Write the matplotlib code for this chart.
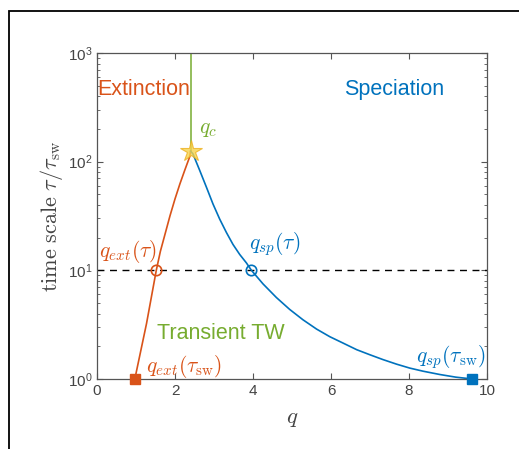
import math
import matplotlib
matplotlib.use("Agg")
import matplotlib.pyplot as plt
from matplotlib.patches import Rectangle
from matplotlib.ticker import FuncFormatter, LogLocator, NullFormatter

plt.rcParams['font.family'] = ['Liberation Sans', 'DejaVu Sans']
plt.rcParams['mathtext.fontset'] = 'custom'
plt.rcParams['mathtext.rm'] = 'Liberation Sans'
plt.rcParams['mathtext.it'] = 'Liberation Sans:italic'

# ---- data ----
ext_q = [0.97, 1.27, 1.52, 1.626, 1.744, 1.872, 2.0, 2.126, 2.249, 2.377, 2.40]
ext_tau = [1.0, 3.24, 10.0, 15.0, 21.5, 31.8, 45.4, 62.5, 83.2, 111.0, 125.0]

sp_q = [2.40, 2.46, 2.633, 2.805, 2.974, 3.146, 3.318, 3.487, 3.659, 3.831, 3.96,
        4.257, 4.6, 4.94, 5.28, 5.63, 5.97, 6.31, 6.66, 7.0, 7.33, 7.68, 8.02,
        8.36, 8.79, 9.2, 9.62]
sp_tau = [125.0, 118.0, 83.2, 58.3, 40.8, 29.6, 22.3, 17.3, 14.0, 11.7, 10.0,
          7.5, 5.62, 4.37, 3.51, 2.88, 2.45, 2.14, 1.86, 1.67, 1.51, 1.37, 1.26,
          1.18, 1.10, 1.04, 1.0]

q_c = 2.40
tau_c = 125.0
tau_level = 10.0
q_ext_level = 1.52
q_sp_level = 3.96
tau_sw = 1.0
q_ext_sw = 0.97
q_sp_sw = 9.62

x_ticks = [0, 2, 4, 6, 8, 10]

ORANGE = '#D95319'
BLUE = '#0072BD'
GREEN = '#77AC30'
YELLOW = '#EDB120'
AX = '#555555'

fig = plt.figure(figsize=(5.19, 4.49), dpi=100)
ax = fig.add_axes([97/519, 1-379/449, 390/519, 326/449])

# frame around figure (cut off at right and bottom)
fig.patches.append(Rectangle((9/519, -0.1), 1.2, 1 - 11/449 + 0.1,
                             transform=fig.transFigure, fill=False,
                             ec='black', lw=1.3, clip_on=False))

ax.plot([0, 10], [tau_level, tau_level], ls=(0, (5, 4)), color='black', lw=1.0)
ax.plot([q_c, q_c], [tau_c, 1000], color=GREEN, lw=1.1)
ax.plot(ext_q, ext_tau, color=ORANGE, lw=1.2)
ax.plot(sp_q, sp_tau, color=BLUE, lw=1.2)

ax.plot([q_ext_level], [tau_level], 'o', mfc='none', mec=ORANGE, ms=7.5, mew=1.2)
ax.plot([q_sp_level], [tau_level], 'o', mfc='none', mec=BLUE, ms=7.5, mew=1.2)
ax.plot([q_ext_sw], [tau_sw], 's', color=ORANGE, ms=6.5, clip_on=False, zorder=5)
ax.plot([q_sp_sw], [tau_sw], 's', color=BLUE, ms=6.5, clip_on=False, zorder=5)
ax.plot([q_c], [tau_c], '*', mfc='#F7D44C', mec=YELLOW, ms=16, mew=0.8, alpha=0.8, zorder=6)

ax.set_xlim(0, 10)
ax.set_yscale('log')
ax.set_ylim(1, 1000)
ax.set_xticks(x_ticks)
ax.yaxis.set_major_locator(LogLocator(base=10))
ax.yaxis.set_minor_locator(LogLocator(base=10, subs=range(2, 10)))
ax.yaxis.set_minor_formatter(NullFormatter())
ax.yaxis.set_major_formatter(FuncFormatter(lambda v, p: r'$\mathregular{10^{%d}}$' % round(math.log10(v))))

for s in ax.spines.values():
    s.set_color(AX)
    s.set_linewidth(0.9)
ax.tick_params(which='both', direction='in', top=True, right=True, color=AX,
               labelcolor='#444444', labelsize=11)
ax.tick_params(which='major', length=4)
ax.tick_params(which='minor', length=2.5)

ax.set_xlabel(r'$q$', fontsize=16.5, math_fontfamily='cm', color='#444444', labelpad=6)
ax.set_ylabel(r'$\mathrm{time\ scale}\ \tau/\tau_{\mathrm{sw}}$', fontsize=16,
              math_fontfamily='cm', color='#444444', labelpad=2)

ax.text(0.0, 460, 'Extinction', color=ORANGE, fontsize=15.5, ha='left', va='center')
ax.text(6.33, 460, 'Speciation', color=BLUE, fontsize=15.5, ha='left', va='center')
ax.text(1.54, 2.65, 'Transient TW', color=GREEN, fontsize=15.5, ha='left', va='center')

ax.text(2.62, 200, r'$q_c$', color=GREEN, fontsize=15.5, math_fontfamily='cm', ha='left', va='center')
ax.text(0.06, 15, r'$q_{ext}(\tau)$', color=ORANGE, fontsize=15.5, math_fontfamily='cm', ha='left', va='center')
ax.text(3.9, 17.4, r'$q_{sp}(\tau)$', color=BLUE, fontsize=15.5, math_fontfamily='cm', ha='left', va='center')
ax.text(1.26, 1.3, r'$q_{ext}(\tau_{\mathrm{sw}})$', color=ORANGE, fontsize=15.5, math_fontfamily='cm', ha='left', va='center')
ax.text(9.97, 1.58, r'$q_{sp}(\tau_{\mathrm{sw}})$', color=BLUE, fontsize=15.5, math_fontfamily='cm', ha='right', va='center')

fig.savefig('out.png', dpi=100)
